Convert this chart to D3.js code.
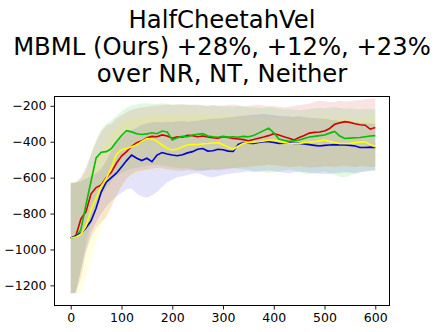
<!DOCTYPE html>
<html>
<head>
<meta charset="utf-8">
<script src="https://cdn.jsdelivr.net/npm/d3@7"></script>
<style>
    body { margin: 0; background: #fff; }
    svg text { font-family: "DejaVu Sans", sans-serif; fill: #000; }
</style>
</head>
<body>
<div id="chart"></div>
<script>
;(function () {

    // training steps, every 10
    var steps = d3.range(0, 610, 10);

    var titleLines = ['HalfCheetahVel', 'MBML (Ours) +28%, +12%, +23%', 'over NR, NT, Neither'];
    var xTicks = [0, 100, 200, 300, 400, 500, 600];
    var yTicks = [-1200, -1000, -800, -600, -400, -200];

    var redMean = [-936, -925, -830, -790, -690, -655, -640, -600, -570, -520, -480, -455, -425, -405, -395, -378, -370, -372, -362, -368,
        -380, -372, -375, -364, -366, -372, -368, -374, -378, -380, -372, -376, -382, -385, -388, -394, -388, -380, -374, -366,
        -355, -362, -372, -380, -390, -376, -365, -352, -348, -346, -340, -326, -303, -295, -288, -292, -300, -305, -308, -330, -320];
    var greenMean = [-936, -930, -890, -750, -620, -490, -458, -455, -438, -400, -365, -338, -345, -355, -360, -356, -350, -355, -340, -345,
        -390, -378, -370, -372, -362, -358, -355, -368, -372, -375, -370, -374, -372, -375, -370, -372, -365, -352, -338, -325,
        -350, -385, -392, -398, -395, -390, -382, -374, -370, -366, -362, -352, -343, -368, -382, -380, -378, -376, -372, -368, -366];
    var blueMean = [-936, -925, -910, -880, -840, -770, -680, -625, -600, -575, -540, -505, -474, -492, -505, -492, -511, -474, -460, -468,
        -474, -478, -472, -462, -455, -442, -438, -452, -450, -442, -445, -452, -454, -415, -405, -408, -409, -404, -400, -400,
        -404, -409, -408, -406, -409, -409, -412, -416, -420, -424, -420, -418, -416, -418, -418, -420, -424, -432, -432, -430, -432];
    var yellowMean = [-936, -930, -915, -870, -780, -715, -648, -605, -545, -470, -445, -438, -428, -418, -398, -382, -385, -398, -418, -437,
        -446, -440, -428, -418, -415, -416, -412, -410, -407, -405, -415, -430, -442, -425, -409, -405, -402, -400, -396, -392,
        -390, -398, -405, -408, -410, -409, -405, -402, -400, -395, -390, -398, -405, -409, -410, -409, -405, -402, -400, -415, -428];

    var redUpper = [-630, -625, -600, -540, -470, -400, -345, -310, -300, -270, -252, -235, -222, -215, -208, -205, -200, -198, -195, -192,
        -196, -194, -190, -193, -196, -192, -195, -198, -196, -200, -198, -195, -193, -198, -202, -200, -196, -194, -198, -202,
        -200, -205, -208, -205, -200, -196, -192, -188, -178, -172, -175, -180, -178, -172, -176, -174, -170, -168, -164, -160, -158];
    var redLower = [-1245, -1240, -1160, -1020, -935, -880, -850, -820, -760, -700, -645, -605, -580, -565, -560, -555, -550, -545, -548, -552,
        -556, -560, -562, -558, -560, -565, -562, -558, -555, -560, -556, -552, -548, -545, -542, -540, -536, -534, -532, -528,
        -530, -534, -538, -542, -540, -536, -540, -544, -542, -540, -536, -538, -540, -536, -534, -538, -540, -536, -538, -540, -538];
    var greenUpper = [-630, -626, -605, -560, -470, -390, -330, -300, -280, -255, -230, -210, -198, -192, -186, -185, -188, -190, -186, -188,
        -192, -190, -194, -196, -194, -198, -200, -202, -198, -200, -204, -202, -206, -200, -204, -208, -206, -210, -212, -205,
        -210, -215, -220, -218, -222, -225, -222, -218, -215, -212, -215, -210, -206, -212, -216, -214, -218, -220, -216, -218, -220];
    var greenLower = [-1245, -1240, -1120, -960, -850, -760, -700, -660, -622, -592, -572, -560, -552, -546, -540, -535, -530, -528, -532, -536,
        -540, -545, -550, -548, -552, -556, -560, -558, -555, -552, -550, -548, -546, -550, -554, -558, -562, -566, -570, -574,
        -570, -566, -560, -556, -560, -570, -578, -580, -576, -572, -566, -575, -585, -595, -598, -590, -580, -570, -566, -562, -560];
    var blueUpper = [-630, -628, -620, -605, -592, -575, -552, -505, -455, -405, -372, -350, -335, -320, -305, -298, -292, -290, -292, -288,
        -290, -286, -284, -288, -285, -282, -278, -275, -272, -270, -268, -264, -262, -258, -255, -252, -250, -248, -246, -250,
        -252, -256, -258, -260, -262, -258, -262, -266, -268, -270, -272, -276, -280, -285, -288, -290, -292, -295, -296, -298, -300];
    var blueLower = [-1245, -1242, -1110, -1000, -905, -850, -800, -760, -730, -705, -685, -665, -660, -690, -705, -710, -700, -680, -650, -625,
        -610, -598, -592, -585, -580, -576, -585, -595, -598, -592, -585, -580, -576, -572, -568, -565, -570, -566, -562, -560,
        -565, -568, -572, -575, -570, -566, -568, -572, -575, -578, -580, -578, -575, -572, -570, -572, -575, -570, -566, -562, -560];
    var yellowUpper = [-630, -626, -615, -598, -560, -500, -450, -400, -355, -322, -295, -280, -272, -266, -262, -258, -255, -252, -250, -252,
        -250, -248, -250, -252, -250, -248, -250, -252, -255, -250, -248, -252, -256, -258, -255, -258, -260, -258, -262, -260,
        -262, -265, -262, -265, -268, -265, -262, -265, -268, -265, -262, -265, -268, -270, -268, -266, -270, -272, -270, -268, -270];
    var yellowLower = [-1250, -1248, -1235, -1160, -1060, -965, -885, -820, -760, -700, -650, -615, -595, -580, -570, -565, -560, -556, -552, -556,
        -560, -558, -555, -552, -550, -548, -546, -548, -550, -548, -545, -542, -546, -548, -545, -542, -540, -538, -536, -538,
        -540, -542, -545, -548, -546, -544, -542, -540, -538, -536, -538, -540, -542, -540, -538, -536, -538, -540, -538, -536, -536];

    var series = [
        { color: '#d40000', mean: redMean, upper: redUpper, lower: redLower },
        { color: '#00c000', mean: greenMean, upper: greenUpper, lower: greenLower },
        { color: '#0000d0', mean: blueMean, upper: blueUpper, lower: blueLower },
        { color: '#ffff00', mean: yellowMean, upper: yellowUpper, lower: yellowLower }
    ];

    var width = 435
        , height = 332
        , left = 54.5
        , right = 389.5
        , top = 96.5
        , bottom = 305.5;

    var svg = d3.select('#chart').append('svg')
        .attr('width', width)
        .attr('height', height);

    var x = d3.scaleLinear().domain([-32, 628]).range([left, right]);
    var y = d3.scaleLinear().domain([-1312, -148]).range([bottom, top]);

    // title
    svg.append('text')
        .attr('text-anchor', 'middle')
        .attr('font-size', 24.3)
        .selectAll('tspan')
        .data(titleLines)
        .enter().append('tspan')
        .attr('x', (left + right) / 2)
        .attr('y', function(d, i) { return 27.5 + i * 27.4; })
        .text(function(d) { return d; });

    var plot = svg.append('g');

    var area = d3.area()
        .x(function(d, i) { return x(steps[i]); })
        .y0(function(d) { return y(d[0]); })
        .y1(function(d) { return y(d[1]); });

    var line = d3.line()
        .x(function(d, i) { return x(steps[i]); })
        .y(function(d) { return y(d); });

    series.forEach(function(s) {
        var band = s.lower.map(function(v, i) { return [v, s.upper[i]]; });
        plot.append('path')
            .attr('d', area(band))
            .attr('fill', s.color)
            .attr('fill-opacity', 0.11);
    });

    series.forEach(function(s) {
        plot.append('path')
            .attr('d', line(s.mean))
            .attr('fill', 'none')
            .attr('stroke', s.color)
            .attr('stroke-width', 1.6);
    });

    // axes
    var xAxis = d3.axisBottom(x).tickValues(xTicks).tickFormat(d3.format('d')).tickSize(4).tickPadding(4);
    var yAxis = d3.axisLeft(y).tickValues(yTicks).tickFormat(d3.format('d')).tickSize(4).tickPadding(4);

    var gx = svg.append('g')
        .attr('transform', 'translate(0,' + bottom + ')')
        .call(xAxis);
    var gy = svg.append('g')
        .attr('transform', 'translate(' + left + ',0)')
        .call(yAxis);

    [gx, gy].forEach(function(g) {
        g.select('.domain').remove();
        g.selectAll('text')
            .attr('font-family', '"DejaVu Sans", sans-serif')
            .attr('font-size', 12.5)
            .attr('fill', '#000');
        g.selectAll('line').attr('stroke', '#000').attr('stroke-width', 0.9);
    });

    svg.append('rect')
        .attr('x', left)
        .attr('y', top)
        .attr('width', right - left)
        .attr('height', bottom - top)
        .attr('fill', 'none')
        .attr('stroke', '#000')
        .attr('stroke-width', 1);

}());
</script>
</body>
</html>
